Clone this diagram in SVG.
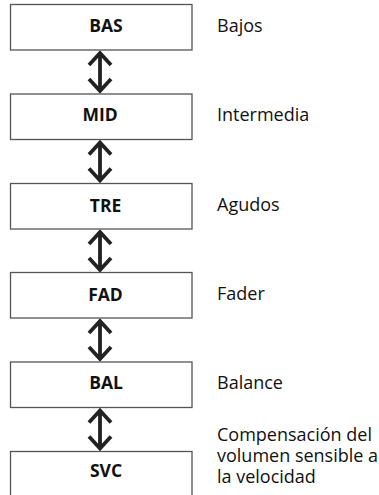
<svg xmlns="http://www.w3.org/2000/svg" width="379" height="495" viewBox="0 0 379 495">
<style>
.box{fill:#fff;stroke:#555;stroke-width:1.3}
.bt{font-family:"Open Sans","Noto Sans",sans-serif;font-weight:bold;font-size:17.5px;fill:#111;text-anchor:middle}
.lb{font-family:"Open Sans","Noto Sans",sans-serif;font-size:18px;fill:#111}
.ar{fill:none;stroke:#222;stroke-width:3.8;stroke-linejoin:miter}
</style>
<rect width="379" height="495" fill="#fff"/>
<g id="connectors">
<path class="ar" d="M100,53 V91 M89,65 L100,53 L111,65 M89,79 L100,91 L111,79"/>
<path class="ar" d="M100,142.5 V180.5 M89,154.5 L100,142.5 L111,154.5 M89,168.5 L100,180.5 L111,168.5"/>
<path class="ar" d="M100,232 V270 M89,244 L100,232 L111,244 M89,258 L100,270 L111,258"/>
<path class="ar" d="M100,321 V359 M89,333 L100,321 L111,333 M89,347 L100,359 L111,347"/>
<path class="ar" d="M100,410.5 V448.5 M89,422.5 L100,410.5 L111,422.5 M89,436.5 L100,448.5 L111,436.5"/>
</g>
<g id="node-bas"><rect class="box" x="10.5" y="4.5" width="181.5" height="45.5"/><text class="bt" x="106" y="31.5">BAS</text><text class="lb" x="217" y="31.5">Bajos</text></g>
<g id="node-mid"><rect class="box" x="10.5" y="94" width="181.5" height="45.5"/><text class="bt" x="100" y="121">MID</text><text class="lb" x="217" y="121">Intermedia</text></g>
<g id="node-tre"><rect class="box" x="10.5" y="183.5" width="181.5" height="45.5"/><text class="bt" x="105.5" y="211.5">TRE</text><text class="lb" x="217" y="210.5">Agudos</text></g>
<g id="node-fad"><rect class="box" x="10.5" y="272.5" width="181.5" height="45.5"/><text class="bt" x="105.5" y="300.5">FAD</text><text class="lb" x="217" y="300">Fader</text></g>
<g id="node-bal"><rect class="box" x="10.5" y="362" width="181.5" height="45.5"/><text class="bt" x="106" y="388.5">BAL</text><text class="lb" x="217" y="389">Balance</text></g>
<g id="node-svc"><rect class="box" x="10.5" y="451.5" width="181.5" height="50"/><text class="bt" x="106" y="477">SVC</text><text class="lb" x="217" y="441"><tspan x="217">Compensación del</tspan><tspan x="217" y="462">volumen sensible a</tspan><tspan x="217" y="483.3">la velocidad</tspan></text></g>
</svg>
